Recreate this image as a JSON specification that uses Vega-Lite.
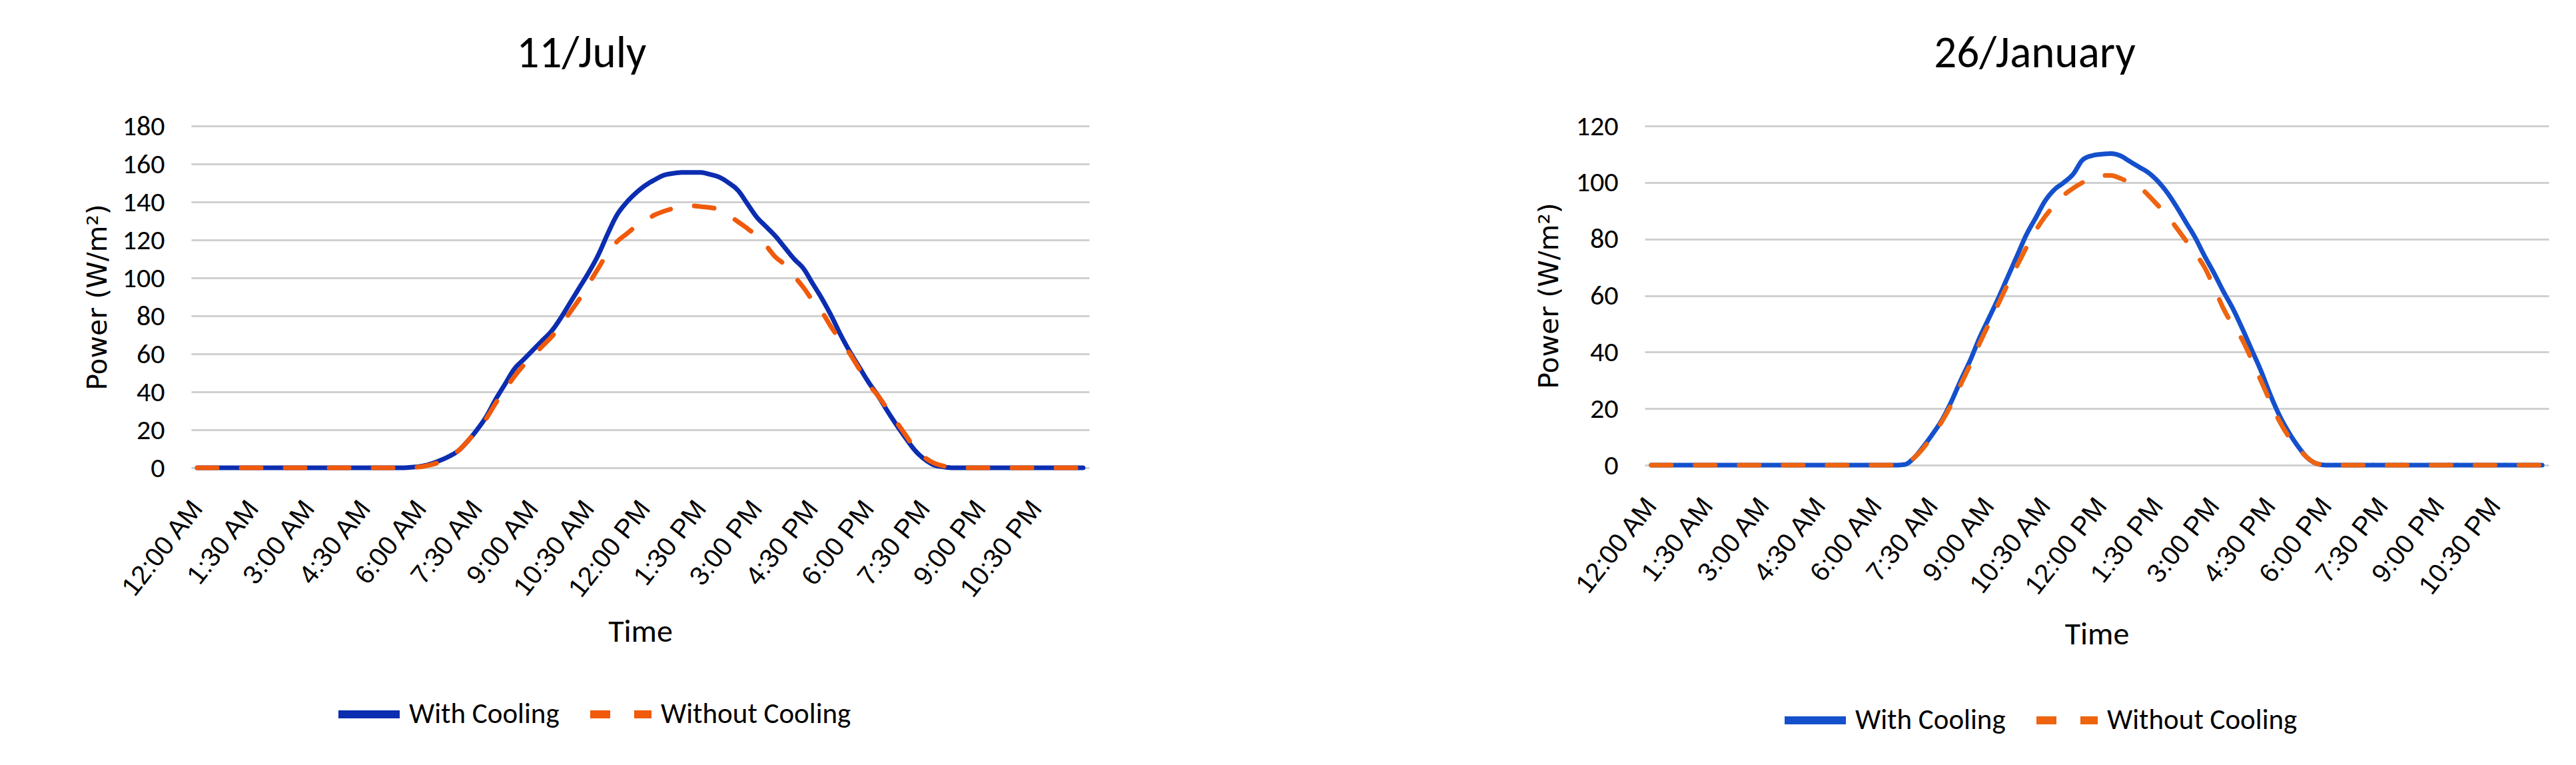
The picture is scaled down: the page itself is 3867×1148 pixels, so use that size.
{
  "$schema": "https://vega.github.io/schema/vega-lite/v6.json",
  "background": "white",
  "padding": {"left": 125, "top": 47, "right": 30, "bottom": 20},
  "spacing": 669,
  "config": {
    "view": {"stroke": null},
    "font": "Carlito, Lato, Liberation Sans",
    "title": {"font": "Carlito, Lato, Liberation Sans", "fontSize": 67, "fontWeight": "normal", "color": "#000", "anchor": "middle", "baseline": "alphabetic", "offset": 53},
    "axis": {"labelColor": "#000", "titleColor": "#000", "ticks": false, "tickSize": 0, "domain": false},
    "legend": {"labelFont": "Carlito, Lato, Liberation Sans", "labelFontSize": 43, "labelColor": "#000", "symbolType": "stroke", "symbolSize": 8464, "symbolStrokeWidth": 12, "direction": "horizontal", "columnPadding": 22, "labelOffset": 8, "labelLimit": 0}
  },
  "datasets": {
    "july": [
      {"time":"12:00 AM","With Cooling":0,"Without Cooling":0},
      {"time":"12:15 AM","With Cooling":0,"Without Cooling":0},
      {"time":"12:30 AM","With Cooling":0,"Without Cooling":0},
      {"time":"12:45 AM","With Cooling":0,"Without Cooling":0},
      {"time":"1:00 AM","With Cooling":0,"Without Cooling":0},
      {"time":"1:15 AM","With Cooling":0,"Without Cooling":0},
      {"time":"1:30 AM","With Cooling":0,"Without Cooling":0},
      {"time":"1:45 AM","With Cooling":0,"Without Cooling":0},
      {"time":"2:00 AM","With Cooling":0,"Without Cooling":0},
      {"time":"2:15 AM","With Cooling":0,"Without Cooling":0},
      {"time":"2:30 AM","With Cooling":0,"Without Cooling":0},
      {"time":"2:45 AM","With Cooling":0,"Without Cooling":0},
      {"time":"3:00 AM","With Cooling":0,"Without Cooling":0},
      {"time":"3:15 AM","With Cooling":0,"Without Cooling":0},
      {"time":"3:30 AM","With Cooling":0,"Without Cooling":0},
      {"time":"3:45 AM","With Cooling":0,"Without Cooling":0},
      {"time":"4:00 AM","With Cooling":0,"Without Cooling":0},
      {"time":"4:15 AM","With Cooling":0,"Without Cooling":0},
      {"time":"4:30 AM","With Cooling":0,"Without Cooling":0},
      {"time":"4:45 AM","With Cooling":0,"Without Cooling":0},
      {"time":"5:00 AM","With Cooling":0,"Without Cooling":0},
      {"time":"5:15 AM","With Cooling":0,"Without Cooling":0},
      {"time":"5:30 AM","With Cooling":0,"Without Cooling":0},
      {"time":"5:45 AM","With Cooling":0.3,"Without Cooling":0.2},
      {"time":"6:00 AM","With Cooling":0.8,"Without Cooling":0.5},
      {"time":"6:15 AM","With Cooling":2,"Without Cooling":1.5},
      {"time":"6:30 AM","With Cooling":3.8,"Without Cooling":3},
      {"time":"6:45 AM","With Cooling":6,"Without Cooling":5.5},
      {"time":"7:00 AM","With Cooling":9,"Without Cooling":9},
      {"time":"7:15 AM","With Cooling":14,"Without Cooling":14},
      {"time":"7:30 AM","With Cooling":20,"Without Cooling":20},
      {"time":"7:45 AM","With Cooling":27,"Without Cooling":26},
      {"time":"8:00 AM","With Cooling":36,"Without Cooling":34},
      {"time":"8:15 AM","With Cooling":44,"Without Cooling":41},
      {"time":"8:30 AM","With Cooling":52,"Without Cooling":48},
      {"time":"8:45 AM","With Cooling":57,"Without Cooling":54},
      {"time":"9:00 AM","With Cooling":62,"Without Cooling":59},
      {"time":"9:15 AM","With Cooling":67,"Without Cooling":64},
      {"time":"9:30 AM","With Cooling":72,"Without Cooling":69},
      {"time":"9:45 AM","With Cooling":79,"Without Cooling":75},
      {"time":"10:00 AM","With Cooling":87,"Without Cooling":82},
      {"time":"10:15 AM","With Cooling":95,"Without Cooling":89},
      {"time":"10:30 AM","With Cooling":103,"Without Cooling":97},
      {"time":"10:45 AM","With Cooling":112,"Without Cooling":105},
      {"time":"11:00 AM","With Cooling":123,"Without Cooling":113},
      {"time":"11:15 AM","With Cooling":133,"Without Cooling":119},
      {"time":"11:30 AM","With Cooling":139.5,"Without Cooling":123},
      {"time":"11:45 AM","With Cooling":144.5,"Without Cooling":127},
      {"time":"12:00 PM","With Cooling":148.5,"Without Cooling":130},
      {"time":"12:15 PM","With Cooling":151.5,"Without Cooling":133},
      {"time":"12:30 PM","With Cooling":154,"Without Cooling":135},
      {"time":"12:45 PM","With Cooling":155,"Without Cooling":136.5},
      {"time":"1:00 PM","With Cooling":155.5,"Without Cooling":137.5},
      {"time":"1:15 PM","With Cooling":155.5,"Without Cooling":138},
      {"time":"1:30 PM","With Cooling":155.5,"Without Cooling":137.5},
      {"time":"1:45 PM","With Cooling":154.5,"Without Cooling":137},
      {"time":"2:00 PM","With Cooling":153,"Without Cooling":136},
      {"time":"2:15 PM","With Cooling":150,"Without Cooling":133},
      {"time":"2:30 PM","With Cooling":146,"Without Cooling":129.5},
      {"time":"2:45 PM","With Cooling":139,"Without Cooling":126},
      {"time":"3:00 PM","With Cooling":132,"Without Cooling":122},
      {"time":"3:15 PM","With Cooling":127,"Without Cooling":117},
      {"time":"3:30 PM","With Cooling":122,"Without Cooling":111},
      {"time":"3:45 PM","With Cooling":116,"Without Cooling":107},
      {"time":"4:00 PM","With Cooling":110,"Without Cooling":101},
      {"time":"4:15 PM","With Cooling":105,"Without Cooling":95},
      {"time":"4:30 PM","With Cooling":97,"Without Cooling":88},
      {"time":"4:45 PM","With Cooling":89,"Without Cooling":82},
      {"time":"5:00 PM","With Cooling":80,"Without Cooling":74},
      {"time":"5:15 PM","With Cooling":70,"Without Cooling":67},
      {"time":"5:30 PM","With Cooling":61,"Without Cooling":60},
      {"time":"5:45 PM","With Cooling":53,"Without Cooling":52},
      {"time":"6:00 PM","With Cooling":45,"Without Cooling":44},
      {"time":"6:15 PM","With Cooling":38,"Without Cooling":38},
      {"time":"6:30 PM","With Cooling":30,"Without Cooling":31},
      {"time":"6:45 PM","With Cooling":22.5,"Without Cooling":24},
      {"time":"7:00 PM","With Cooling":15.5,"Without Cooling":17},
      {"time":"7:15 PM","With Cooling":9,"Without Cooling":10},
      {"time":"7:30 PM","With Cooling":4.5,"Without Cooling":5.5},
      {"time":"7:45 PM","With Cooling":1.5,"Without Cooling":2.5},
      {"time":"8:00 PM","With Cooling":0.5,"Without Cooling":1},
      {"time":"8:15 PM","With Cooling":0,"Without Cooling":0.3},
      {"time":"8:30 PM","With Cooling":0,"Without Cooling":0},
      {"time":"8:45 PM","With Cooling":0,"Without Cooling":0},
      {"time":"9:00 PM","With Cooling":0,"Without Cooling":0},
      {"time":"9:15 PM","With Cooling":0,"Without Cooling":0},
      {"time":"9:30 PM","With Cooling":0,"Without Cooling":0},
      {"time":"9:45 PM","With Cooling":0,"Without Cooling":0},
      {"time":"10:00 PM","With Cooling":0,"Without Cooling":0},
      {"time":"10:15 PM","With Cooling":0,"Without Cooling":0},
      {"time":"10:30 PM","With Cooling":0,"Without Cooling":0},
      {"time":"10:45 PM","With Cooling":0,"Without Cooling":0},
      {"time":"11:00 PM","With Cooling":0,"Without Cooling":0},
      {"time":"11:15 PM","With Cooling":0,"Without Cooling":0},
      {"time":"11:30 PM","With Cooling":0,"Without Cooling":0},
      {"time":"11:45 PM","With Cooling":0,"Without Cooling":0}
    ],
    "january": [
      {"time":"12:00 AM","With Cooling":0,"Without Cooling":0},
      {"time":"12:15 AM","With Cooling":0,"Without Cooling":0},
      {"time":"12:30 AM","With Cooling":0,"Without Cooling":0},
      {"time":"12:45 AM","With Cooling":0,"Without Cooling":0},
      {"time":"1:00 AM","With Cooling":0,"Without Cooling":0},
      {"time":"1:15 AM","With Cooling":0,"Without Cooling":0},
      {"time":"1:30 AM","With Cooling":0,"Without Cooling":0},
      {"time":"1:45 AM","With Cooling":0,"Without Cooling":0},
      {"time":"2:00 AM","With Cooling":0,"Without Cooling":0},
      {"time":"2:15 AM","With Cooling":0,"Without Cooling":0},
      {"time":"2:30 AM","With Cooling":0,"Without Cooling":0},
      {"time":"2:45 AM","With Cooling":0,"Without Cooling":0},
      {"time":"3:00 AM","With Cooling":0,"Without Cooling":0},
      {"time":"3:15 AM","With Cooling":0,"Without Cooling":0},
      {"time":"3:30 AM","With Cooling":0,"Without Cooling":0},
      {"time":"3:45 AM","With Cooling":0,"Without Cooling":0},
      {"time":"4:00 AM","With Cooling":0,"Without Cooling":0},
      {"time":"4:15 AM","With Cooling":0,"Without Cooling":0},
      {"time":"4:30 AM","With Cooling":0,"Without Cooling":0},
      {"time":"4:45 AM","With Cooling":0,"Without Cooling":0},
      {"time":"5:00 AM","With Cooling":0,"Without Cooling":0},
      {"time":"5:15 AM","With Cooling":0,"Without Cooling":0},
      {"time":"5:30 AM","With Cooling":0,"Without Cooling":0},
      {"time":"5:45 AM","With Cooling":0,"Without Cooling":0},
      {"time":"6:00 AM","With Cooling":0,"Without Cooling":0},
      {"time":"6:15 AM","With Cooling":0,"Without Cooling":0},
      {"time":"6:30 AM","With Cooling":0,"Without Cooling":0},
      {"time":"6:45 AM","With Cooling":0.2,"Without Cooling":0.2},
      {"time":"7:00 AM","With Cooling":2.5,"Without Cooling":2.5},
      {"time":"7:15 AM","With Cooling":6.5,"Without Cooling":6},
      {"time":"7:30 AM","With Cooling":11,"Without Cooling":10.5},
      {"time":"7:45 AM","With Cooling":16,"Without Cooling":15.5},
      {"time":"8:00 AM","With Cooling":22.5,"Without Cooling":21.5},
      {"time":"8:15 AM","With Cooling":30,"Without Cooling":28.5},
      {"time":"8:30 AM","With Cooling":37,"Without Cooling":35.5},
      {"time":"8:45 AM","With Cooling":45,"Without Cooling":43},
      {"time":"9:00 AM","With Cooling":52,"Without Cooling":50},
      {"time":"9:15 AM","With Cooling":59,"Without Cooling":57},
      {"time":"9:30 AM","With Cooling":66.5,"Without Cooling":64},
      {"time":"9:45 AM","With Cooling":74,"Without Cooling":70.5},
      {"time":"10:00 AM","With Cooling":81.5,"Without Cooling":77},
      {"time":"10:15 AM","With Cooling":87.5,"Without Cooling":83},
      {"time":"10:30 AM","With Cooling":93.5,"Without Cooling":88},
      {"time":"10:45 AM","With Cooling":97.5,"Without Cooling":92},
      {"time":"11:00 AM","With Cooling":100,"Without Cooling":95.5},
      {"time":"11:15 AM","With Cooling":103,"Without Cooling":98},
      {"time":"11:30 AM","With Cooling":108,"Without Cooling":100},
      {"time":"11:45 AM","With Cooling":109.5,"Without Cooling":101.5},
      {"time":"12:00 PM","With Cooling":110,"Without Cooling":102.5},
      {"time":"12:15 PM","With Cooling":110.2,"Without Cooling":102.5},
      {"time":"12:30 PM","With Cooling":109.5,"Without Cooling":101.5},
      {"time":"12:45 PM","With Cooling":107.5,"Without Cooling":100},
      {"time":"1:00 PM","With Cooling":105.5,"Without Cooling":98.5},
      {"time":"1:15 PM","With Cooling":103.5,"Without Cooling":95.5},
      {"time":"1:30 PM","With Cooling":100.5,"Without Cooling":92},
      {"time":"1:45 PM","With Cooling":96.5,"Without Cooling":88.5},
      {"time":"2:00 PM","With Cooling":91.5,"Without Cooling":84},
      {"time":"2:15 PM","With Cooling":86,"Without Cooling":79.5},
      {"time":"2:30 PM","With Cooling":80.5,"Without Cooling":75},
      {"time":"2:45 PM","With Cooling":74,"Without Cooling":70},
      {"time":"3:00 PM","With Cooling":68,"Without Cooling":63},
      {"time":"3:15 PM","With Cooling":61.5,"Without Cooling":55.5},
      {"time":"3:30 PM","With Cooling":55.5,"Without Cooling":49.5},
      {"time":"3:45 PM","With Cooling":48.5,"Without Cooling":44.5},
      {"time":"4:00 PM","With Cooling":41,"Without Cooling":37.5},
      {"time":"4:15 PM","With Cooling":33.5,"Without Cooling":30},
      {"time":"4:30 PM","With Cooling":25,"Without Cooling":22.5},
      {"time":"4:45 PM","With Cooling":17.5,"Without Cooling":15.5},
      {"time":"5:00 PM","With Cooling":11.5,"Without Cooling":10},
      {"time":"5:15 PM","With Cooling":6.5,"Without Cooling":6},
      {"time":"5:30 PM","With Cooling":2.5,"Without Cooling":2.5},
      {"time":"5:45 PM","With Cooling":0.5,"Without Cooling":0.5},
      {"time":"6:00 PM","With Cooling":0,"Without Cooling":0},
      {"time":"6:15 PM","With Cooling":0,"Without Cooling":0},
      {"time":"6:30 PM","With Cooling":0,"Without Cooling":0},
      {"time":"6:45 PM","With Cooling":0,"Without Cooling":0},
      {"time":"7:00 PM","With Cooling":0,"Without Cooling":0},
      {"time":"7:15 PM","With Cooling":0,"Without Cooling":0},
      {"time":"7:30 PM","With Cooling":0,"Without Cooling":0},
      {"time":"7:45 PM","With Cooling":0,"Without Cooling":0},
      {"time":"8:00 PM","With Cooling":0,"Without Cooling":0},
      {"time":"8:15 PM","With Cooling":0,"Without Cooling":0},
      {"time":"8:30 PM","With Cooling":0,"Without Cooling":0},
      {"time":"8:45 PM","With Cooling":0,"Without Cooling":0},
      {"time":"9:00 PM","With Cooling":0,"Without Cooling":0},
      {"time":"9:15 PM","With Cooling":0,"Without Cooling":0},
      {"time":"9:30 PM","With Cooling":0,"Without Cooling":0},
      {"time":"9:45 PM","With Cooling":0,"Without Cooling":0},
      {"time":"10:00 PM","With Cooling":0,"Without Cooling":0},
      {"time":"10:15 PM","With Cooling":0,"Without Cooling":0},
      {"time":"10:30 PM","With Cooling":0,"Without Cooling":0},
      {"time":"10:45 PM","With Cooling":0,"Without Cooling":0},
      {"time":"11:00 PM","With Cooling":0,"Without Cooling":0},
      {"time":"11:15 PM","With Cooling":0,"Without Cooling":0},
      {"time":"11:30 PM","With Cooling":0,"Without Cooling":0},
      {"time":"11:45 PM","With Cooling":0,"Without Cooling":0}
    ]
  },
  "hconcat": [
    {
      "data": {"name": "july"},
      "transform": [{"fold": ["With Cooling", "Without Cooling"], "as": ["series", "power"]}],
      "title": {"text": "11/July", "dx": -88},
      "width": 1348,
      "height": 513,
      "mark": {"type": "line", "strokeWidth": 7, "interpolate": "monotone", "strokeCap": "round", "strokeJoin": "round"},
      "encoding": {
        "x": {
          "field": "time", "type": "ordinal", "sort": null,
          "scale": {"type": "point", "padding": 0.65},
          "axis": {
            "values": ["12:00 AM","1:30 AM","3:00 AM","4:30 AM","6:00 AM","7:30 AM","9:00 AM","10:30 AM","12:00 PM","1:30 PM","3:00 PM","4:30 PM","6:00 PM","7:30 PM","9:00 PM","10:30 PM"],
            "grid": false, "labelAngle": -52, "labelAlign": "right", "labelBaseline": "middle",
            "labelFont": "Liberation Sans", "labelFontSize": 40, "labelPadding": 54,
            "title": "Time", "titleFont": "Carlito, Lato, Liberation Sans", "titleFontSize": 48, "titleFontWeight": "normal",
            "titleY": 246, "titleBaseline": "middle"
          }
        },
        "y": {
          "field": "power", "type": "quantitative",
          "scale": {"domain": [0, 180], "nice": false},
          "axis": {
            "values": [0,20,40,60,80,100,120,140,160,180],
            "grid": true, "gridColor": "#d0d0d0", "gridWidth": 3,
            "labelFont": "Carlito, Lato, Liberation Sans", "labelFontSize": 42, "labelPadding": 40,
            "title": "Power (W/m²)", "titleFont": "DejaVu Sans", "titleFontSize": 41, "titleFontWeight": "normal",
            "titleX": -140, "titleBaseline": "middle"
          }
        },
        "color": {
          "field": "series", "type": "nominal",
          "scale": {"domain": ["With Cooling", "Without Cooling"], "range": ["#0B2DB0", "#F05A0A"]},
          "legend": {"title": null, "orient": "none", "legendX": 215, "legendY": 831}
        },
        "strokeDash": {
          "field": "series", "type": "nominal",
          "scale": {"domain": ["With Cooling", "Without Cooling"], "range": [[1, 0], [30, 36]]},
          "legend": {"title": null, "orient": "none", "legendX": 215, "legendY": 831}
        }
      }
    },
    {
      "data": {"name": "january"},
      "transform": [{"fold": ["With Cooling", "Without Cooling"], "as": ["series", "power"]}],
      "title": {"text": "26/January", "dx": -93},
      "width": 1357,
      "height": 509,
      "mark": {"type": "line", "strokeWidth": 7, "interpolate": "monotone", "strokeCap": "round", "strokeJoin": "round"},
      "encoding": {
        "x": {
          "field": "time", "type": "ordinal", "sort": null,
          "scale": {"type": "point", "padding": 0.7},
          "axis": {
            "values": ["12:00 AM","1:30 AM","3:00 AM","4:30 AM","6:00 AM","7:30 AM","9:00 AM","10:30 AM","12:00 PM","1:30 PM","3:00 PM","4:30 PM","6:00 PM","7:30 PM","9:00 PM","10:30 PM"],
            "grid": false, "labelAngle": -52, "labelAlign": "right", "labelBaseline": "middle",
            "labelFont": "Liberation Sans", "labelFontSize": 40, "labelPadding": 54,
            "title": "Time", "titleFont": "Carlito, Lato, Liberation Sans", "titleFontSize": 48, "titleFontWeight": "normal",
            "titleY": 254, "titleBaseline": "middle"
          }
        },
        "y": {
          "field": "power", "type": "quantitative",
          "scale": {"domain": [0, 120], "nice": false},
          "axis": {
            "values": [0,20,40,60,80,100,120],
            "grid": true, "gridColor": "#d0d0d0", "gridWidth": 3,
            "labelFont": "Carlito, Lato, Liberation Sans", "labelFontSize": 42, "labelPadding": 40,
            "title": "Power (W/m²)", "titleFont": "DejaVu Sans", "titleFontSize": 41, "titleFontWeight": "normal",
            "titleX": -143, "titleBaseline": "middle"
          }
        },
        "color": {
          "field": "series", "type": "nominal",
          "scale": {"domain": ["With Cooling", "Without Cooling"], "range": ["#1550CC", "#EE640F"]},
          "legend": {"title": null, "orient": "none", "legendX": 204, "legendY": 840}
        },
        "strokeDash": {
          "field": "series", "type": "nominal",
          "scale": {"domain": ["With Cooling", "Without Cooling"], "range": [[1, 0], [30, 36]]},
          "legend": {"title": null, "orient": "none", "legendX": 204, "legendY": 840}
        }
      }
    }
  ],
  "resolve": {"scale": {"color": "independent", "strokeDash": "independent", "y": "independent", "x": "independent"}}
}
